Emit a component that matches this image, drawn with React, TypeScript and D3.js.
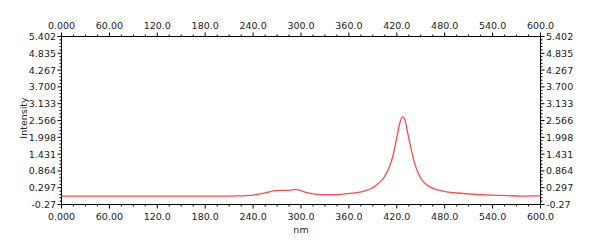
import React from "react";
import * as d3 from "d3";

const wavelengths = [0, 100, 200, 220, 240, 255, 265, 275, 285, 293, 297, 305, 315, 325, 340, 355, 370, 380, 388, 395, 403, 410, 415, 420, 424, 427, 430, 434, 438, 442, 447, 453, 460, 470, 485, 500, 520, 550, 575, 600];
const intensities = [0.01, 0.01, 0.012, 0.02, 0.05, 0.12, 0.19, 0.21, 0.21, 0.24, 0.22, 0.15, 0.09, 0.065, 0.065, 0.09, 0.13, 0.19, 0.27, 0.4, 0.6, 0.95, 1.35, 2.0, 2.5, 2.69, 2.6, 2.1, 1.6, 1.15, 0.78, 0.5, 0.35, 0.23, 0.15, 0.11, 0.07, 0.04, 0.015, 0.02];
const xTicks = [0, 60, 120, 180, 240, 300, 360, 420, 480, 540, 600];
const xTickLabels = ["0.000", "60.00", "120.0", "180.0", "240.0", "300.0", "360.0", "420.0", "480.0", "540.0", "600.0"];
const yTicks = [-0.27, 0.297, 0.864, 1.431, 1.998, 2.566, 3.133, 3.7, 4.267, 4.835, 5.402];
const yTickLabels = ["-0.27", "0.297", "0.864", "1.431", "1.998", "2.566", "3.133", "3.700", "4.267", "4.835", "5.402"];

export default function App() {
  const W = 602, H = 242;
  const L = 61.5, R = 540.5, T = 36.5, B = 204.5;
  const x = d3.scaleLinear().domain([0, 600]).range([L, R]);
  const y = d3.scaleLinear().domain([-0.27, 5.402]).range([B, T]);
  const pts = wavelengths.map((w, i) => [w, intensities[i]] as [number, number]);
  const line = d3.line<[number, number]>().x(d => x(d[0])).y(d => y(d[1])).curve(d3.curveMonotoneX);
  const xMinor = d3.range(0, 601, 15).filter(v => v % 60 !== 0);
  const yMinor: number[] = [];
  for (let i = 0; i < yTicks.length - 1; i++) {
    const a = yTicks[i], b = yTicks[i + 1];
    for (let k = 1; k < 5; k++) yMinor.push(a + (b - a) * k / 5);
  }
  const font = "'DejaVu Sans', Verdana, sans-serif";
  const tc = "#222";
  return (
    <svg width={W} height={H} style={{ position: "absolute", left: 0, top: 0, background: "#fff" }} fontFamily={font}>
      <rect x={0} y={0} width={W} height={H} fill="#fff" />
      <rect x={L} y={T} width={R - L} height={B - T} fill="none" stroke="#000" strokeWidth={1} />
      {xTicks.map((v, i) => (
        <g key={"x" + i}>
          <line x1={x(v)} x2={x(v)} y1={B} y2={B + 4} stroke="#000" />
          <line x1={x(v)} x2={x(v)} y1={T} y2={T - 4} stroke="#000" />
          <text x={x(v)} y={220} textAnchor="middle" fontSize={9.5} fill={tc}>{xTickLabels[i]}</text>
          <text x={x(v)} y={29} textAnchor="middle" fontSize={9.5} fill={tc}>{xTickLabels[i]}</text>
        </g>
      ))}
      {xMinor.map((v, i) => (
        <g key={"xm" + i}>
          <line x1={x(v)} x2={x(v)} y1={B} y2={B + 2} stroke="#000" />
          <line x1={x(v)} x2={x(v)} y1={T} y2={T - 2} stroke="#000" />
        </g>
      ))}
      {yTicks.map((v, i) => (
        <g key={"y" + i}>
          <line x1={L} x2={L - 4} y1={y(v)} y2={y(v)} stroke="#000" />
          <line x1={R} x2={R + 4} y1={y(v)} y2={y(v)} stroke="#000" />
          <text x={56} y={y(v) + 3.5} textAnchor="end" fontSize={9.5} fill={tc}>{yTickLabels[i]}</text>
          <text x={546} y={y(v) + 3.5} textAnchor="start" fontSize={9.5} fill={tc}>{yTickLabels[i]}</text>
        </g>
      ))}
      {yMinor.map((v, i) => (
        <g key={"ym" + i}>
          <line x1={L} x2={L - 2} y1={y(v)} y2={y(v)} stroke="#000" />
          <line x1={R} x2={R + 2} y1={y(v)} y2={y(v)} stroke="#000" />
        </g>
      ))}
      <path d={line(pts) || ""} fill="none" stroke="#ff4a4a" strokeWidth={1.3} />
      <text x={301} y={233} textAnchor="middle" fontSize={9.5} fill={tc}>nm</text>
      <text transform={`translate(27,118) rotate(-90)`} textAnchor="middle" fontSize={9.5} fill={tc}>Intensity</text>
    </svg>
  );
}
